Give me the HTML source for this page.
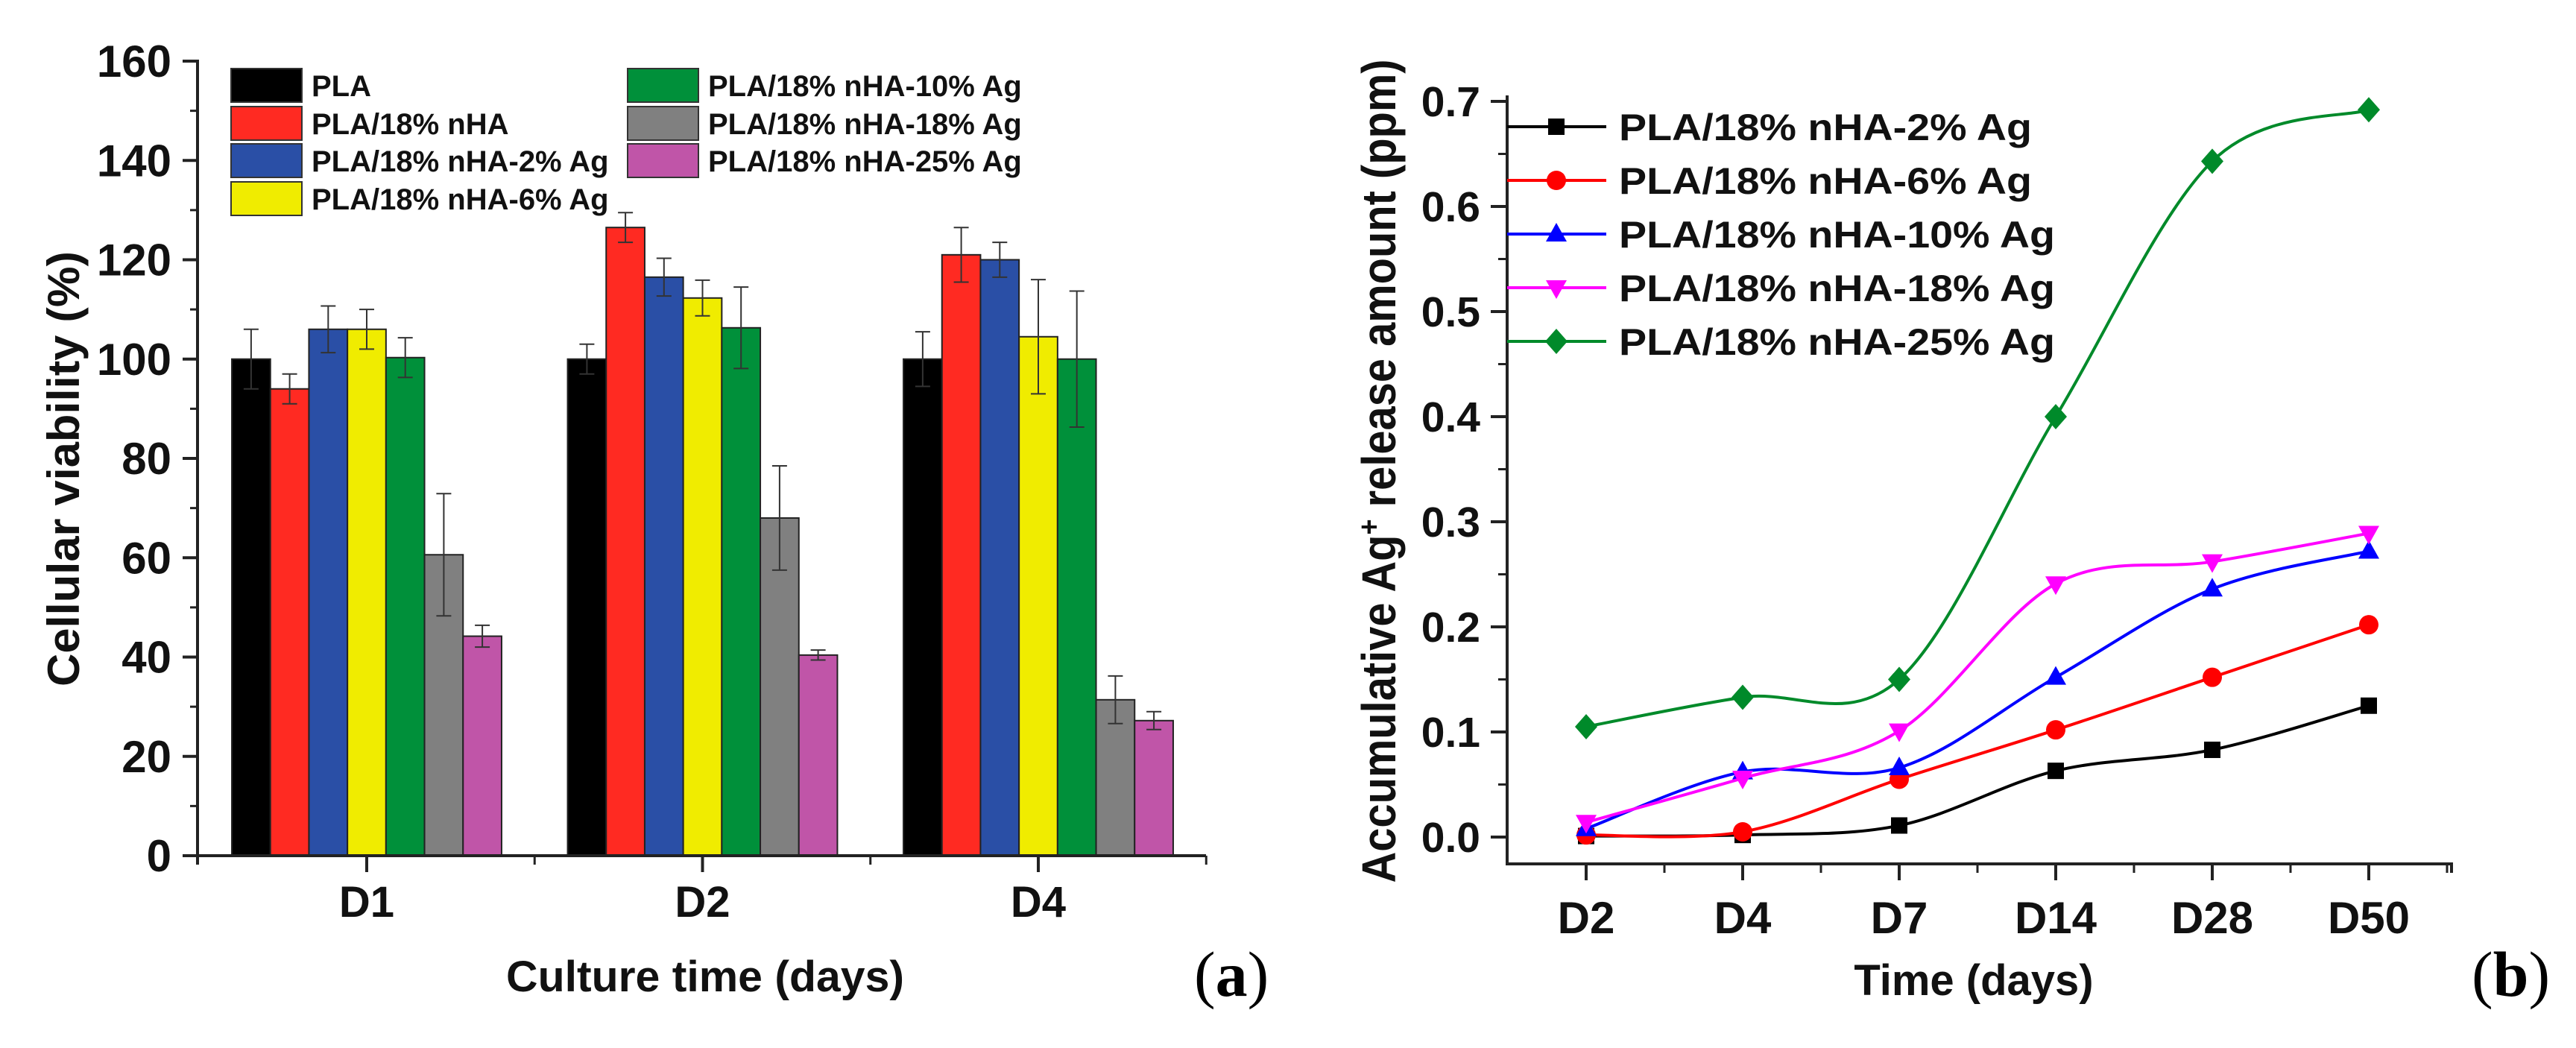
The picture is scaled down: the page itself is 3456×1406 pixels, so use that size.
<!DOCTYPE html>
<html><head><meta charset="utf-8"><style>
html,body{margin:0;padding:0;background:#fff;}
svg{display:block;font-family:"Liberation Sans",Arial,sans-serif;}
</style></head><body>
<svg id="fig" width="3456" height="1406" viewBox="0 0 3456 1406" xmlns="http://www.w3.org/2000/svg"></svg>
<script>
// ---------- Panel (a) data ----------
const groupsA = ["D1","D2","D4"];
const seriesA = ["PLA","PLA/18% nHA","PLA/18% nHA-2% Ag","PLA/18% nHA-6% Ag","PLA/18% nHA-10% Ag","PLA/18% nHA-18% Ag","PLA/18% nHA-25% Ag"];
const colorsA = ["#000000","#ff2a22","#2a4fa6","#f0ec00","#00903a","#808080","#c055a8"];
const valPLA   = [100, 100, 100];
const valNHA   = [94, 126.5, 121];
const val2Ag   = [106, 116.5, 120];
const val6Ag   = [106, 112.3, 104.5];
const val10Ag  = [100.3, 106.3, 100];
const val18Ag  = [60.6, 68, 31.4];
const val25Ag  = [44.2, 40.4, 27.2];
const errPLA   = [6, 3, 5.5];
const errNHA   = [3, 3, 5.5];
const err2Ag   = [4.7, 3.8, 3.5];
const err6Ag   = [4, 3.6, 11.5];
const err10Ag  = [4, 8.2, 13.7];
const err18Ag  = [12.3, 10.5, 4.8];
const err25Ag  = [2.2, 1, 1.8];
const ticksA = [0,20,40,60,80,100,120,140,160];

// ---------- Panel (b) data ----------
const timesB = ["D2","D4","D7","D14","D28","D50"];
const seriesB = ["PLA/18% nHA-2% Ag","PLA/18% nHA-6% Ag","PLA/18% nHA-10% Ag","PLA/18% nHA-18% Ag","PLA/18% nHA-25% Ag"];
const colorsB = ["#000000","#ff0000","#0000ff","#ff00ff","#008a2a"];
const markersB = ["square","circle","triangle","invtriangle","diamond"];
const rel2  = [0.001, 0.002, 0.011, 0.063, 0.083, 0.125];
const rel6  = [0.002, 0.005, 0.055, 0.102, 0.152, 0.202];
const rel10 = [0.008, 0.062, 0.066, 0.152, 0.236, 0.272];
const rel18 = [0.014, 0.056, 0.101, 0.241, 0.262, 0.289];
const rel25 = [0.105, 0.133, 0.150, 0.400, 0.643, 0.692];
const ticksB = [0.0,0.1,0.2,0.3,0.4,0.5,0.6,0.7];
const tickLabelsB = ["0.0","0.1","0.2","0.3","0.4","0.5","0.6","0.7"];

const NS = "http://www.w3.org/2000/svg";
const svg = document.getElementById("fig");
function el(tag, attrs, parent){
  const e = document.createElementNS(NS, tag);
  for (const k in attrs) e.setAttribute(k, attrs[k]);
  (parent||svg).appendChild(e);
  return e;
}

// ===== Panel (a) axes =====
const A = {x0:265, x1:1618, y0:1148, yTop:82, vmax:160, c0:492, step:450.5, bw:51.7};
const ya = v => A.y0 - (v/A.vmax)*(A.y0-A.yTop);
const xa = g => A.c0 + g*A.step;
const gA = el("g",{});



const valsA = [valPLA,valNHA,val2Ag,val6Ag,val10Ag,val18Ag,val25Ag];
const errsA = [errPLA,errNHA,err2Ag,err6Ag,err10Ag,err18Ag,err25Ag];
for (let s=0;s<seriesA.length;s++){
  for (let g=0; g<groupsA.length; g++){
    const v = valsA[s][g], e = errsA[s][g];
    const cx = xa(g) + (s-3)*A.bw;
    const r = el("rect",{x:cx-A.bw/2, y:ya(v), width:A.bw, height:A.y0-ya(v), fill:colorsA[s], stroke:"#222", "stroke-width":2}, gA);
    
    
    const eb = el("path",{d:`M${cx} ${ya(v-e)}V${ya(v+e)}M${cx-10} ${ya(v+e)}H${cx+10}M${cx-10} ${ya(v-e)}H${cx+10}`, stroke:"#333", "stroke-width":2, fill:"none"}, gA);
    
    
  }
}
// axes lines
const axA = el("path",{d:`M${A.x0} ${A.yTop-2}V${A.y0+12}M${A.x0-2} ${A.y0}H${A.x1}`, stroke:"#222","stroke-width":4,fill:"none"}, gA);


for (let i=0;i<ticksA.length;i++){
  const t = ticksA[i];
  const tk = el("line",{x1:A.x0-20,x2:A.x0,y1:ya(t),y2:ya(t),stroke:"#222","stroke-width":4}, gA);
  
  
  if (i<ticksA.length-1){
    const mt = el("line",{x1:A.x0-10,x2:A.x0,y1:ya(t+10),y2:ya(t+10),stroke:"#222","stroke-width":3}, gA);
    
    
  }
  const tl = el("text",{x:230,y:ya(t)+21,"text-anchor":"end","font-size":60,"font-weight":"bold",fill:"#111"}, gA);
  tl.textContent = t;
  
  
}
for (let g=0; g<groupsA.length; g++){
  const tk = el("line",{x1:xa(g),x2:xa(g),y1:A.y0,y2:A.y0+22,stroke:"#222","stroke-width":4}, gA);
  
  
  const mt = el("line",{x1:xa(g)+A.step/2,x2:xa(g)+A.step/2,y1:A.y0,y2:A.y0+12,stroke:"#222","stroke-width":3}, gA);
  
  
  const tl = el("text",{x:xa(g),y:1230,"text-anchor":"middle","font-size":58,"font-weight":"bold",fill:"#111"}, gA);
  tl.textContent = groupsA[g];
  
  
}
const xtA = el("text",{x:946,y:1330,"text-anchor":"middle","font-size":58,"font-weight":"bold",fill:"#111",textLength:534,lengthAdjust:"spacingAndGlyphs"}, gA);
xtA.textContent = "Culture time (days)";


const ytA = el("text",{x:0,y:0,"text-anchor":"middle","font-size":60,"font-weight":"bold",fill:"#111",transform:"translate(106,629) rotate(-90)",textLength:584,lengthAdjust:"spacingAndGlyphs"}, gA);
ytA.textContent = "Cellular viability (%)";


const lblA = el("text",{x:1602,y:1336,"font-size":86,"font-family":"Liberation Serif, serif",fill:"#000"}, gA);
lblA.innerHTML = '(<tspan font-weight="bold">a</tspan>)';


// legend a
const legPos = [[310,92],[310,143],[310,193],[310,244],[842,92],[842,143],[842,193]];
for (let s=0;s<seriesA.length;s++){
  const [lx,ly] = legPos[s];
  const sw = el("rect",{x:lx,y:ly,width:95,height:45,fill:colorsA[s],stroke:"#333","stroke-width":2}, gA);
  
  
  const lt = el("text",{x:lx+108,y:ly+37,"font-size":40,"font-weight":"bold",fill:"#111"}, gA);
  lt.textContent = seriesA[s];
  
  
}

// ===== Panel (b) =====
const B = {x0:2022, x1:3289, y0:1123, per:1410, xAxisY:1159, c0:2128, step:210};
const yb = v => B.y0 - v*B.per;
const xb = i => B.c0 + i*B.step;
const gB = el("g",{});


const axB = el("path",{d:`M${B.x0} 128V${B.xAxisY}H${B.x1}V${B.xAxisY+12}`, stroke:"#222","stroke-width":4,fill:"none"}, gB);


for (let i=0;i<ticksB.length;i++){
  const t = ticksB[i];
  const tk = el("line",{x1:B.x0-22,x2:B.x0,y1:yb(t),y2:yb(t),stroke:"#222","stroke-width":4}, gB);
  
  
  if (i<ticksB.length-1){
    const mt = el("line",{x1:B.x0-12,x2:B.x0,y1:yb(t+0.05),y2:yb(t+0.05),stroke:"#222","stroke-width":3}, gB);
    
    
  }
  const tl = el("text",{x:1986,y:yb(t)+20,"text-anchor":"end","font-size":57,"font-weight":"bold",fill:"#111"}, gB);
  tl.textContent = tickLabelsB[i];
  
  
}
for (let i=0;i<timesB.length;i++){
  const tk = el("line",{x1:xb(i),x2:xb(i),y1:B.xAxisY,y2:B.xAxisY+22,stroke:"#222","stroke-width":4}, gB);
  
  
  const mt = el("line",{x1:xb(i)+B.step/2,x2:xb(i)+B.step/2,y1:B.xAxisY,y2:B.xAxisY+12,stroke:"#222","stroke-width":3}, gB);
  
  
  const tl = el("text",{x:xb(i),y:1252,"text-anchor":"middle","font-size":60,"font-weight":"bold",fill:"#111"}, gB);
  tl.textContent = timesB[i];
  
  
}
const xtB = el("text",{x:2648,y:1335,"text-anchor":"middle","font-size":58,"font-weight":"bold",fill:"#111"}, gB);
xtB.textContent = "Time (days)";


const ytB = el("text",{x:0,y:0,"text-anchor":"middle","font-size":64,"font-weight":"bold",fill:"#111",transform:"translate(1872,632) rotate(-90)",textLength:1105,lengthAdjust:"spacingAndGlyphs"}, gB);
ytB.innerHTML = 'Accumulative Ag<tspan baseline-shift="super" font-size="40">+</tspan> release amount (ppm)';


const lblB = el("text",{x:3316,y:1336,"font-size":86,"font-family":"Liberation Serif, serif",fill:"#000"}, gB);
lblB.innerHTML = '(<tspan font-weight="bold">b</tspan>)';



function marker(type,x,y,color,parent){
  let m;
  if (type==="square") m = el("rect",{x:x-11,y:y-11,width:22,height:22,fill:color},parent);
  else if (type==="circle") m = el("circle",{cx:x,cy:y,r:13,fill:color},parent);
  else if (type==="triangle") m = el("path",{d:`M${x} ${y-15}L${x+14} ${y+10}H${x-14}Z`,fill:color},parent);
  else if (type==="invtriangle") m = el("path",{d:`M${x} ${y+15}L${x+14} ${y-10}H${x-14}Z`,fill:color},parent);
  else m = el("path",{d:`M${x} ${y-17}L${x+15} ${y}L${x} ${y+17}L${x-15} ${y}Z`,fill:color},parent);
  return m;
}
function smooth(pts){
  let d = `M${pts[0][0]} ${pts[0][1]}`;
  for (let i=0;i<pts.length-1;i++){
    const p0 = pts[Math.max(0,i-1)], p1 = pts[i], p2 = pts[i+1], p3 = pts[Math.min(pts.length-1,i+2)];
    const c1x = p1[0]+(p2[0]-p0[0])/6, c1y = p1[1]+(p2[1]-p0[1])/6;
    const c2x = p2[0]-(p3[0]-p1[0])/6, c2y = p2[1]-(p3[1]-p1[1])/6;
    d += `C${c1x} ${c1y} ${c2x} ${c2y} ${p2[0]} ${p2[1]}`;
  }
  return d;
}
const valsB = [rel2,rel6,rel10,rel18,rel25];
for (let s=0;s<seriesB.length;s++){
  const pts = valsB[s].map((v,i)=>[xb(i),yb(v)]);
  const ln = el("path",{d:smooth(pts),stroke:colorsB[s],"stroke-width":4,fill:"none"}, gB);
  
  
  for (const p of pts){
    const m = marker(markersB[s],p[0],p[1],colorsB[s],gB);
    
    
  }
  // legend
  const ly = 170 + s*72;
  const ll = el("line",{x1:B.x0,x2:2155,y1:ly,y2:ly,stroke:colorsB[s],"stroke-width":4}, gB);
  
  
  const lm = marker(markersB[s],2088,ly,colorsB[s],gB);
  
  
  const lt = el("text",{x:2172,y:ly+18,"font-size":50,"font-weight":"bold",fill:"#111",textLength:(s<2?554:585),lengthAdjust:"spacingAndGlyphs"}, gB);
  lt.textContent = seriesB[s];
  
  
}
</script>
</body></html>
